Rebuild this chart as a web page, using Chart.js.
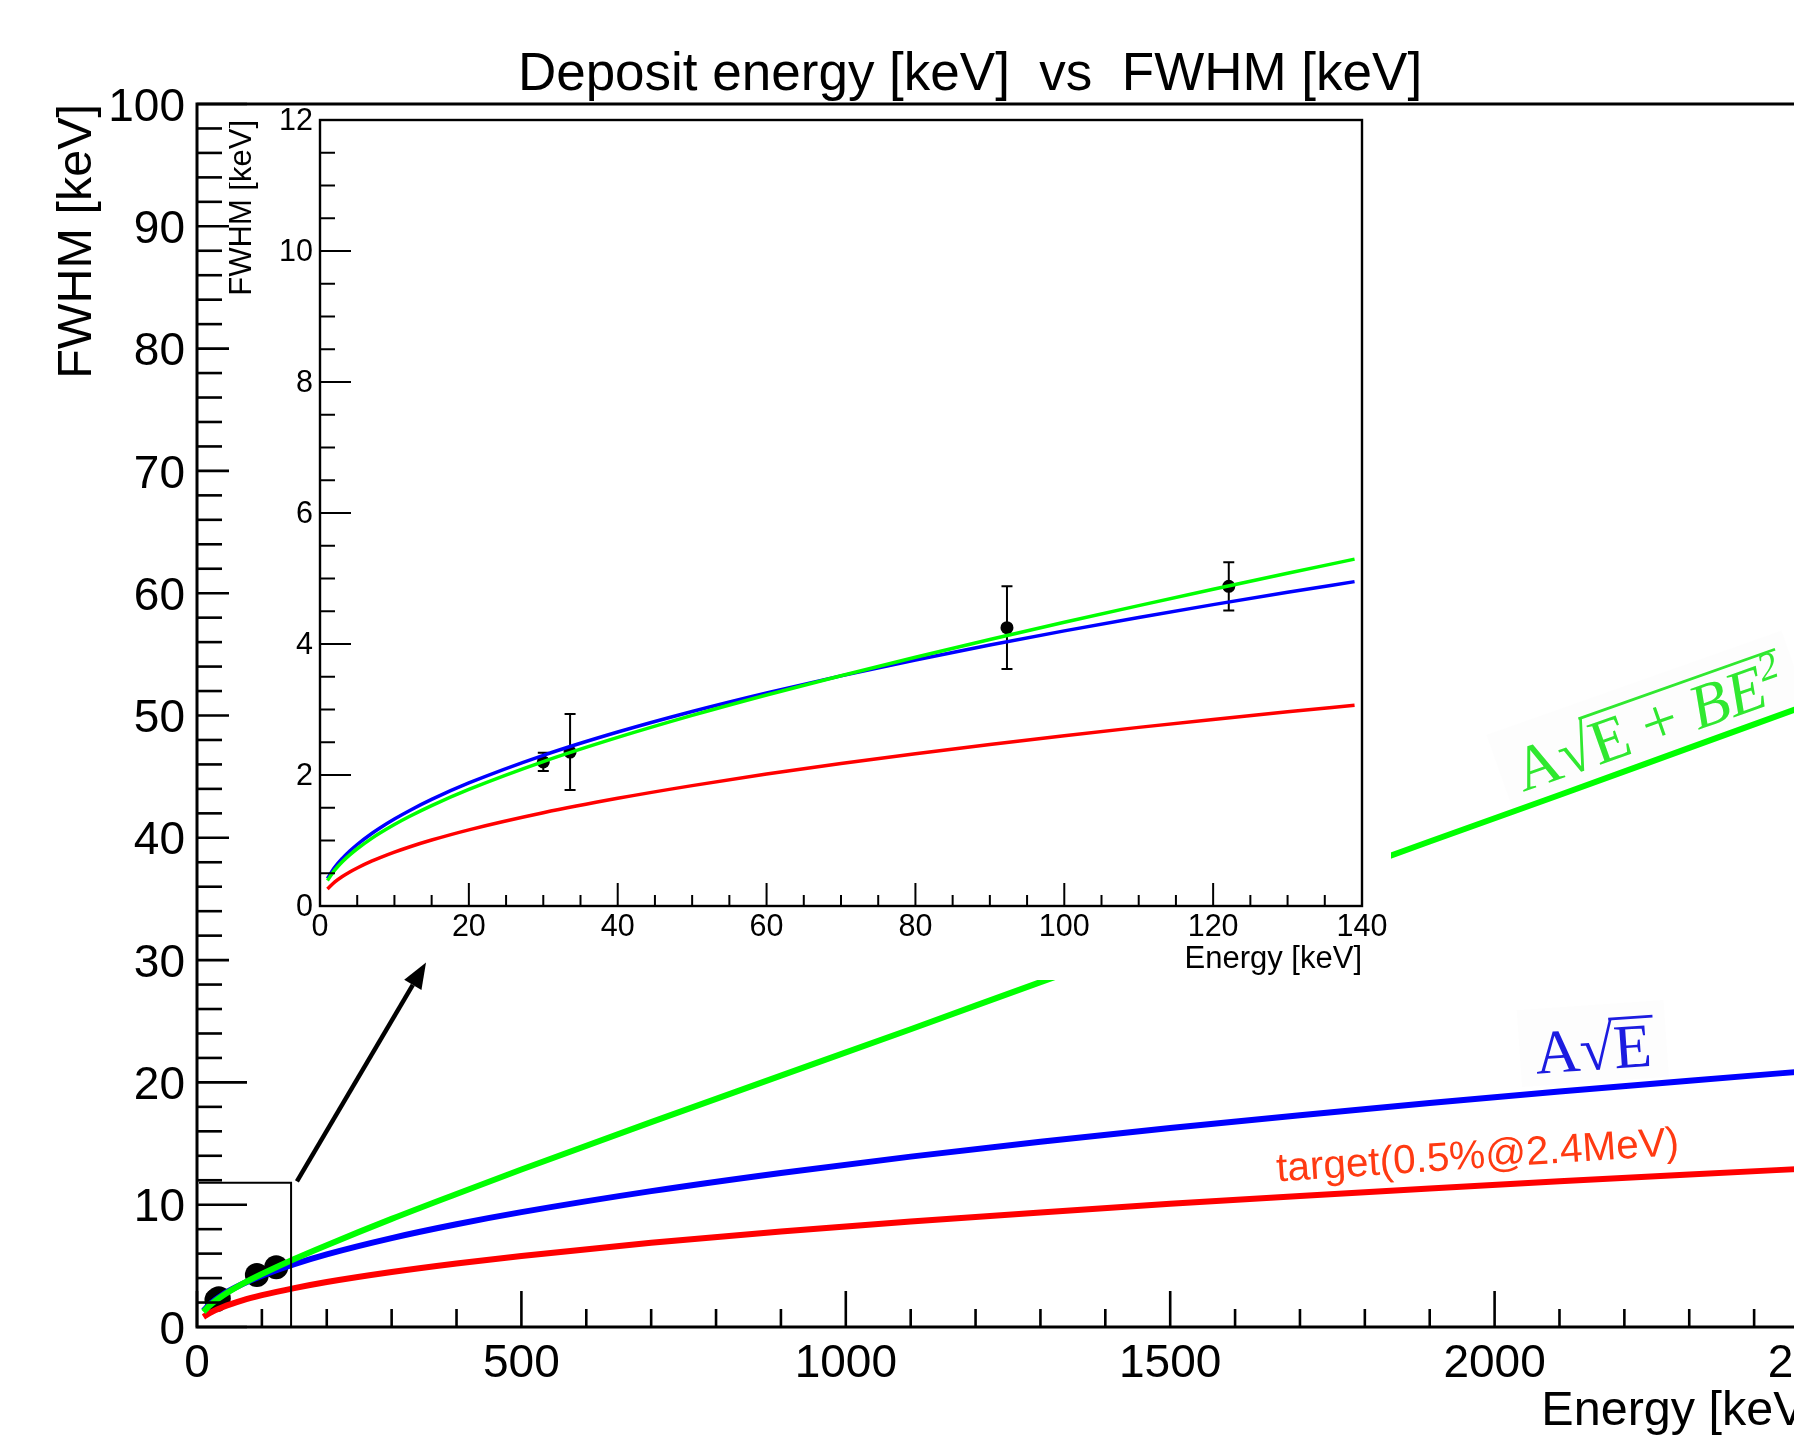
<!DOCTYPE html>
<html><head><meta charset="utf-8">
<script src="https://cdn.jsdelivr.net/npm/chart.js@4.4.1/dist/chart.umd.min.js"></script>
<style>
html,body{margin:0;padding:0;background:#fff;overflow:hidden;width:1794px;height:1451px;position:relative;}
#main{position:absolute;left:0;top:0;}
#inset{position:absolute;left:229px;top:80px;}
</style></head><body>
<canvas id="main" width="1900" height="1451"></canvas>
<canvas id="inset" width="1162" height="900"></canvas>
<script>
// ---------------- data ----------------
const curveEnergyMain = [10, 20, 40, 70, 100, 150, 200, 300, 400, 500, 700, 900, 1100, 1300, 1500, 1700, 1900, 2100, 2300, 2500];
const targetMain      = [0.82, 1.16, 1.64, 2.18, 2.60, 3.18, 3.68, 4.50, 5.20, 5.81, 6.88, 7.80, 8.62, 9.37, 10.07, 10.72, 11.33, 11.91, 12.47, 13.00];
const sqrtFitMain     = [1.33, 1.88, 2.66, 3.51, 4.20, 5.14, 5.94, 7.27, 8.40, 9.39, 11.11, 12.60, 13.93, 15.14, 16.27, 17.32, 18.31, 19.25, 20.14, 21.00];
const sqrtQuadFitMain = [1.24, 1.78, 2.57, 3.52, 4.33, 5.56, 6.69, 8.84, 10.88, 12.88, 16.75, 20.55, 24.35, 28.20, 32.00, 35.85, 39.70, 43.50, 47.35, 51.20];

const curveEnergyInset = [1, 2, 3, 4, 5, 7, 8, 10, 12, 15, 20, 30, 40, 50, 60, 70, 80, 90, 100, 110, 120, 130, 139];
const targetInset      = [0.260, 0.368, 0.450, 0.520, 0.581, 0.688, 0.735, 0.822, 0.901, 1.007, 1.163, 1.424, 1.644, 1.838, 2.014, 2.175, 2.326, 2.467, 2.600, 2.727, 2.848, 2.964, 3.065];
const sqrtFitInset     = [0.420, 0.594, 0.727, 0.840, 0.939, 1.111, 1.188, 1.328, 1.455, 1.627, 1.878, 2.300, 2.656, 2.970, 3.253, 3.514, 3.757, 3.984, 4.200, 4.405, 4.601, 4.789, 4.952];
const sqrtQuadFitInset = [0.389, 0.551, 0.676, 0.781, 0.874, 1.037, 1.110, 1.244, 1.366, 1.533, 1.780, 2.205, 2.574, 2.910, 3.222, 3.516, 3.798, 4.069, 4.331, 4.586, 4.836, 5.080, 5.296];

const pointEnergy = [30.0, 33.6, 92.3, 122.1];
const pointFWHM   = [2.20, 2.35, 4.25, 4.88];
const pointError  = [0.14, 0.58, 0.63, 0.37];

const mainXTicks  = [0, 500, 1000, 1500, 2000, 2500];
const mainYTicks  = [0, 10, 20, 30, 40, 50, 60, 70, 80, 90, 100];
const insetXTicks = [0, 20, 40, 60, 80, 100, 120, 140];
const insetYTicks = [0, 2, 4, 6, 8, 10, 12];

const chartTitle = 'Deposit energy [keV]  vs  FWHM [keV]';
const xTitle = 'Energy [keV]';
const yTitle = 'FWHM [keV]';
const targetLabel = 'target(0.5%@2.4MeV)';

// annotation anchors in main-plot data coordinates
const zoomBoxE = [0, 145], zoomBoxF = [0, 11.8];
const arrowFrom = [154, 11.9], arrowTo = [353, 29.8];
const targetAnchor = [1974, 13.9];
const sqrtAnchor = [2152, 22.7];
const quadAnchor = [2238, 49.2];

// ---------------- drawing ----------------
const FONT = '"Liberation Sans", Arial, Helvetica, sans-serif';
const SERIF = '"Liberation Serif", "DejaVu Serif", "Times New Roman", serif';
Chart.defaults.font.family = FONT;
Chart.defaults.color = '#000';

function pts(xs, ys) { return xs.map((x, i) => ({x: x, y: ys[i]})); }
function curve(data, color, width, order) {
  return {data: data, showLine: true, borderColor: color, backgroundColor: color, borderWidth: width,
    pointRadius: 0, pointHoverRadius: 0, cubicInterpolationMode: 'monotone', order: order};
}

function drawTicks(ctx, a, xs, ys, cfg) {
  ctx.save();
  ctx.strokeStyle = '#000';
  ctx.lineWidth = cfg.lw;
  ctx.lineCap = 'butt';
  for (let v = ys.min; v <= ys.max + 1e-9; v += cfg.yMinor) {
    const p = ys.getPixelForValue(v);
    const major = Math.abs(v / cfg.yMajor - Math.round(v / cfg.yMajor)) < 1e-6;
    const len = major ? cfg.yMajLen : cfg.yMinLen;
    ctx.beginPath(); ctx.moveTo(a.left, p); ctx.lineTo(a.left + len, p); ctx.stroke();
  }
  for (let v = xs.min; v <= xs.max + 1e-9; v += cfg.xMinor) {
    const p = xs.getPixelForValue(v);
    const major = Math.abs(v / cfg.xMajor - Math.round(v / cfg.xMajor)) < 1e-6;
    const len = major ? cfg.xMajLen : cfg.xMinLen;
    ctx.beginPath(); ctx.moveTo(p, a.bottom); ctx.lineTo(p, a.bottom - len); ctx.stroke();
  }
  ctx.lineWidth = cfg.frame;
  ctx.strokeRect(a.left, a.top, a.right - a.left, a.bottom - a.top);
  ctx.restore();
}

function drawRadical(ctx, cx, cy, ang, size, color, pieces, bg) {
  ctx.save();
  ctx.translate(cx, cy);
  ctx.rotate(ang);
  const fontOf = p => (p.italic ? 'italic ' : '') + (p.sup ? Math.round(size * 0.62) : size) + 'px ' + SERIF;
  let total = 0;
  const widths = pieces.map(p => { ctx.font = fontOf(p); const w = ctx.measureText(p.t).width; total += w; return w; });
  let x = -total / 2;
  const by = size * 0.33;
  if (bg) {
    ctx.fillStyle = bg;
    ctx.fillRect(-total / 2 - 0.25 * size, -size * 0.72, total + 0.5 * size, size * 1.25);
  }
  ctx.fillStyle = color;
  ctx.textBaseline = 'alphabetic';
  let radStart = null, radEnd = null;
  pieces.forEach((p, i) => {
    ctx.font = fontOf(p);
    ctx.fillText(p.t, x, p.sup ? by - size * 0.38 : by);
    if (p.t === '√') radStart = x + widths[i] * 0.9;
    if (p.rad) radEnd = x + widths[i];
    x += widths[i];
  });
  if (radStart !== null) {
    ctx.strokeStyle = color;
    ctx.lineWidth = Math.max(1.5, size * 0.045);
    const ly = by - size * 0.80;
    ctx.beginPath(); ctx.moveTo(radStart, ly); ctx.lineTo(radEnd + size * 0.05, ly); ctx.stroke();
  }
  ctx.restore();
}

const mainPlugin = {
  id: 'mainDeco',
  afterDatasetsDraw(chart) {
    drawTicks(chart.ctx, chart.chartArea, chart.scales.x, chart.scales.y,
      {lw: 2.6, frame: 3, yMinor: 2, yMajor: 10, yMajLen: 50, yMinLen: 25, xMinor: 100, xMajor: 500, xMajLen: 36, xMinLen: 18});
  },
  afterDraw(chart) {
    const ctx = chart.ctx, xs = chart.scales.x, ys = chart.scales.y;
    const P = (e, f) => [xs.getPixelForValue(e), ys.getPixelForValue(f)];
    ctx.save();
    // white pad of the inset
    ctx.fillStyle = '#fff';
    ctx.fillRect(229, 106, 1162, 874);
    // zoom box
    const b0 = P(zoomBoxE[0], zoomBoxF[0]), b1 = P(zoomBoxE[1], zoomBoxF[1]);
    ctx.strokeStyle = '#000'; ctx.lineWidth = 2;
    ctx.beginPath();
    ctx.moveTo(b0[0] + 2, b1[1]); ctx.lineTo(b1[0], b1[1]); ctx.lineTo(b1[0], b0[1]);
    ctx.stroke();
    // arrow
    const a0 = P(arrowFrom[0], arrowFrom[1]), a1 = P(arrowTo[0], arrowTo[1]);
    const ang = Math.atan2(a1[1] - a0[1], a1[0] - a0[0]);
    const headL = 26, headW = 10;
    const bx = a1[0] - headL * Math.cos(ang), byy = a1[1] - headL * Math.sin(ang);
    ctx.lineWidth = 4.5; ctx.lineCap = 'butt';
    ctx.beginPath(); ctx.moveTo(a0[0], a0[1]); ctx.lineTo(bx, byy); ctx.stroke();
    ctx.fillStyle = '#000';
    ctx.beginPath();
    ctx.moveTo(a1[0], a1[1]);
    ctx.lineTo(bx + headW * Math.sin(ang), byy - headW * Math.cos(ang));
    ctx.lineTo(bx - headW * Math.sin(ang), byy + headW * Math.cos(ang));
    ctx.closePath(); ctx.fill();
    // target label
    const t = P(targetAnchor[0], targetAnchor[1]);
    ctx.save();
    ctx.translate(t[0], t[1]); ctx.rotate(-3.8 * Math.PI / 180);
    ctx.font = '40.5px ' + FONT; ctx.fillStyle = '#ff3a12';
    ctx.textAlign = 'center'; ctx.textBaseline = 'middle';
    ctx.fillText(targetLabel, 0, 0);
    ctx.restore();
    // formulas
    const s = P(sqrtAnchor[0], sqrtAnchor[1]);
    drawRadical(ctx, s[0], s[1], -4 * Math.PI / 180, 62, '#1c1ce0',
      [{t: 'A'}, {t: '√'}, {t: 'E', rad: true}], 'rgba(0,0,40,0.008)');
    const q = P(quadAnchor[0], quadAnchor[1]);
    drawRadical(ctx, q[0], q[1], -19.5 * Math.PI / 180, 63, '#30e830',
      [{t: 'A'}, {t: '√'}, {t: 'E + '}, {t: 'BE', italic: true}, {t: '2', italic: true, sup: true, rad: true}], 'rgba(0,0,0,0.007)');
    // main title
    ctx.font = '53px ' + FONT; ctx.fillStyle = '#000';
    ctx.textAlign = 'center'; ctx.textBaseline = 'middle';
    ctx.fillText(chartTitle, 970, 75);
    ctx.restore();
  }
};

const insetPlugin = {
  id: 'insetDeco',
  beforeDatasetsDraw(chart) {
    const ctx = chart.ctx, xs = chart.scales.x, ys = chart.scales.y;
    ctx.save();
    ctx.strokeStyle = '#000'; ctx.lineWidth = 2;
    pointEnergy.forEach((e, i) => {
      const x = xs.getPixelForValue(e);
      const yt = ys.getPixelForValue(pointFWHM[i] + pointError[i]);
      const yb = ys.getPixelForValue(pointFWHM[i] - pointError[i]);
      ctx.beginPath();
      ctx.moveTo(x, yt); ctx.lineTo(x, yb);
      ctx.moveTo(x - 5.5, yt); ctx.lineTo(x + 5.5, yt);
      ctx.moveTo(x - 5.5, yb); ctx.lineTo(x + 5.5, yb);
      ctx.stroke();
    });
    ctx.restore();
  },
  afterDatasetsDraw(chart) {
    drawTicks(chart.ctx, chart.chartArea, chart.scales.x, chart.scales.y,
      {lw: 2, frame: 2.4, yMinor: 0.5, yMajor: 2, yMajLen: 31, yMinLen: 15, xMinor: 5, xMajor: 20, xMajLen: 23, xMinLen: 11});
  }
};

function axisCommon(ticksArr, min, max, fontSize, pad, labelOffset, title, titleSize, titlePad, titleLH, fitFn) {
  return {
    type: 'linear', min: min, max: max,
    afterBuildTicks: s => { s.ticks = ticksArr.map(v => ({value: v})); },
    afterFit: fitFn,
    ticks: {font: {size: fontSize, family: FONT}, color: '#000', padding: pad, labelOffset: labelOffset,
      maxRotation: 0, autoSkip: false, callback: v => String(v)},
    grid: {display: false, drawTicks: false},
    border: {display: false},
    title: {display: true, text: title, align: 'end', color: '#000',
      font: {size: titleSize, family: FONT, lineHeight: titleLH}, padding: titlePad}
  };
}

new Chart(document.getElementById('main'), {
  type: 'scatter',
  data: {datasets: [
    curve(pts(curveEnergyMain, sqrtQuadFitMain), '#00ff00', 6, 0),
    curve(pts(curveEnergyMain, sqrtFitMain), '#0000ff', 6, 1),
    curve(pts(curveEnergyMain, targetMain), '#ff0000', 6, 2),
    {data: pts(pointEnergy, pointFWHM), pointRadius: 12, pointHoverRadius: 12, pointBackgroundColor: '#000',
      pointBorderColor: '#000', pointBorderWidth: 0, showLine: false, order: 3}
  ]},
  options: {
    responsive: false, animation: false, devicePixelRatio: 1,
    layout: {autoPadding: false, padding: {left: 0, top: 104, right: 81, bottom: 0}},
    plugins: {legend: {display: false}, tooltip: {enabled: false}, title: {display: false}},
    scales: {
      x: Object.assign(axisCommon(mainXTicks, 0, 2500, 46, 9.5, 0, xTitle, 48.5, {top: 0, bottom: 10}, 1.2, s => { s.height = 124; }), {position: 'bottom'}),
      y: Object.assign(axisCommon(mainYTicks, 0, 100, 46, 12, 4, yTitle, 48.5, {top: 49, bottom: 0}, 1.2, s => { s.width = 197; }), {position: 'left'})
    }
  },
  plugins: [mainPlugin]
});

new Chart(document.getElementById('inset'), {
  type: 'scatter',
  data: {datasets: [
    curve(pts(curveEnergyInset, sqrtQuadFitInset), '#00ff00', 3.5, 0),
    curve(pts(curveEnergyInset, sqrtFitInset), '#0000ff', 3.5, 1),
    curve(pts(curveEnergyInset, targetInset), '#ff0000', 3.5, 2),
    {data: pts(pointEnergy, pointFWHM), pointRadius: 6.5, pointHoverRadius: 6.5, pointBackgroundColor: '#000',
      pointBorderColor: '#000', pointBorderWidth: 0, showLine: false, order: 3}
  ]},
  options: {
    responsive: false, animation: false, devicePixelRatio: 1,
    layout: {autoPadding: false, padding: {left: 0, top: 40, right: 29, bottom: 0}},
    plugins: {legend: {display: false}, tooltip: {enabled: false}, title: {display: false}},
    scales: {
      x: Object.assign(axisCommon(insetXTicks, 0, 140, 30.5, 3, 0, xTitle, 31, {top: 0, bottom: 2}, 1.2, s => { s.height = 74; }), {position: 'bottom'}),
      y: Object.assign(axisCommon(insetYTicks, 0, 12, 30.5, 7, 2, yTitle, 31, {top: -2, bottom: 0}, 1.0, s => { s.width = 91; }), {position: 'left'})
    }
  },
  plugins: [insetPlugin]
});
</script>
</body></html>
